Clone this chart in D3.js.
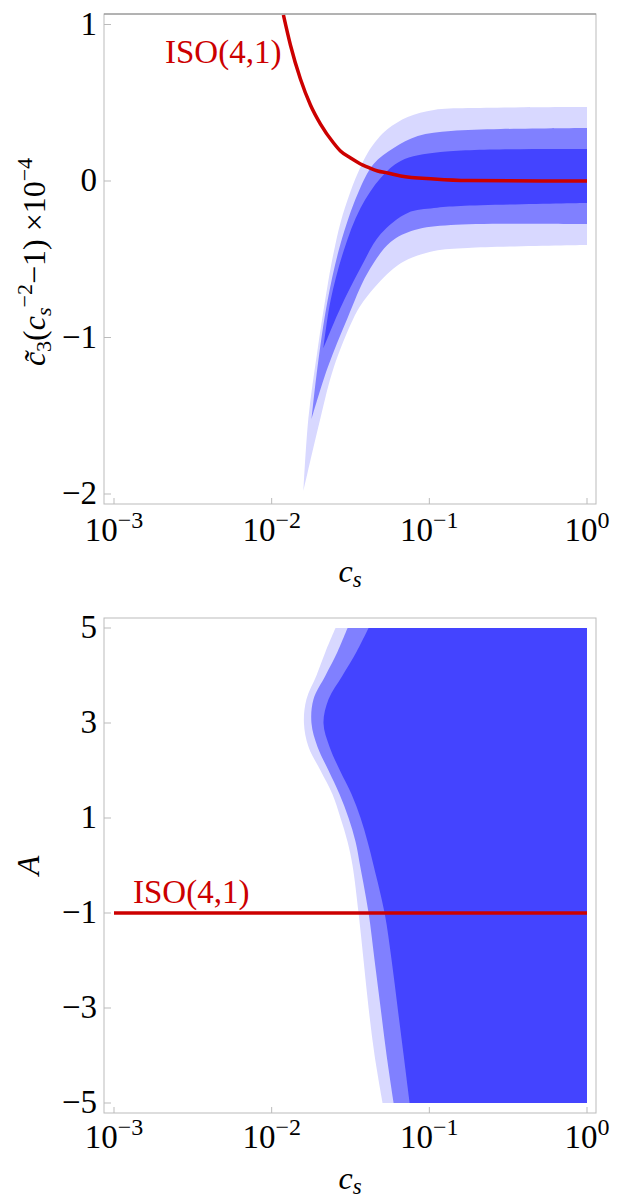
<!DOCTYPE html>
<html lang="en">
<head>
    <meta charset="UTF-8">
    <title>ISO(4,1) constraints</title>
    <script src="https://d3js.org/d3.v7.min.js"></script>
    <style>
        body { margin: 0; background: #fff; }
        svg { display: block; }
        text { font-family: "Liberation Serif", "Times New Roman", serif; fill: #000; }
        .frame { fill: none; stroke: #bbb; stroke-width: 1; }
        .frame-top { stroke: #888; stroke-width: 1; }
        .tick { stroke: #bbb; stroke-width: 1; }
        .iso { fill: none; stroke: #cc0000; stroke-width: 3.5; }
        .iso-label { fill: #cc0000; }
    </style>
</head>
<body>
<script>
    const width = 621;
    const height = 1199;

    // axes
    const xTicks = [1e-3, 1e-2, 1e-1, 1];
    const xTickExps = ["\u22123", "\u22122", "\u22121", "0"];
    const topYTicks = [1, 0, -1, -2];
    const bottomYTicks = [5, 3, 1, -1, -3, -5];

    // top panel: [c_s, c3~(c_s^-2 - 1) x 1e-4], contour edges from the tip to c_s = 1
    const topLightUpper = [[0.0159,-1.98],[0.0171,-1.514],[0.0195,-1.086],[0.0226,-0.671],[0.0247,-0.460],
        [0.0273,-0.268],[0.0317,-0.064],[0.0366,0.089],[0.0406,0.179],[0.047,0.268],[0.0544,0.332],
        [0.0729,0.409],[0.107,0.454],[0.175,0.466],[1,0.473]];
    const topLightLower = [[0.0159,-1.98],[0.0204,-1.514],[0.0247,-1.195],[0.0331,-0.875],[0.0383,-0.767],
        [0.047,-0.658],[0.0568,-0.575],[0.0698,-0.511],[0.107,-0.447],[0.175,-0.428],[1,-0.409]];
    const topMediumUpper = [[0.0179,-1.521],[0.0195,-1.195],[0.0226,-0.767],[0.0273,-0.403],[0.0351,-0.083],
        [0.0443,0.109],[0.0594,0.211],[0.0844,0.288],[0.137,0.319],[0.284,0.332],[1,0.339]];
    const topMediumLower = [[0.0179,-1.521],[0.0226,-1.195],[0.0303,-0.875],[0.0406,-0.588],[0.0568,-0.39],
        [0.0807,-0.313],[0.137,-0.281],[1,-0.275]];
    const topDarkUpper = [[0.0213,-1.067],[0.0236,-0.767],[0.0286,-0.447],[0.0366,-0.173],[0.0491,0.019],
        [0.0658,0.128],[0.118,0.185],[1,0.204]];
    const topDarkLower = [[0.0213,-1.067],[0.0273,-0.811],[0.0366,-0.556],[0.0491,-0.339],[0.0729,-0.204],
        [0.107,-0.173],[0.158,-0.160],[1,-0.141]];
    const topIso = [[0.01187,1.061],[0.01315,0.869],[0.01522,0.652],[0.01762,0.486],[0.0204,0.364],
        [0.0247,0.243],[0.0273,0.192],[0.0317,0.147],[0.0366,0.109],[0.0406,0.089],[0.047,0.064],
        [0.0544,0.051],[0.0658,0.032],[0.107,0.013],[0.175,0.003],[1,0]];

    // bottom panel: left edge c_s of each region for given A, region extends to c_s = 1
    const bottomA = [5, 4.5, 4, 3.5, 3, 2.5, 2, 1.5, 1, 0.5, 0, -1, -2, -3, -4, -5];
    const bottomLight = [0.0254,0.02195,0.01924,0.01662,0.01602,0.01712,0.0204,0.0243,0.02733,0.03029,
        0.03258,0.03558,0.03828,0.04118,0.04496,0.05056];
    const bottomMedium = [0.03029,0.02617,0.02195,0.01842,0.01788,0.01952,0.02294,0.02694,0.03074,0.03405,
        0.03637,0.04118,0.04496,0.04909,0.05359,0.0594];
    const bottomDark = [0.04118,0.03456,0.02815,0.02294,0.02131,0.02327,0.0271,0.03212,0.03664,0.04058,
        0.0443,0.05204,0.05768,0.06296,0.06875,0.07507];
    const bottomIso = [[0.001,-1],[1,-1]];

    const colors = {light: "#d8d8ff", medium: "#8080ff", dark: "#4444ff"};

    const svg = d3.select("body").append("svg")
        .attr("width", width).attr("height", height);

    const frameX = [104, 596];
    const x = d3.scaleLog().domain([1e-3, 1]).range([114, 587]);

    const panels = [
        {frameY: [14, 504], y: d3.scaleLinear().domain([-2, 1]).range([494, 24.5]),
         ticks: topYTicks, labelBase: 541, id: "top"},
        {frameY: [618, 1113], y: d3.scaleLinear().domain([-5, 5]).range([1103, 628]),
         ticks: bottomYTicks, labelBase: 1148, id: "bottom"}
    ];

    function fmt(v) {
        return v < 0 ? "\u2212" + Math.abs(v) : String(v);
    }

    panels.forEach(function(p) {
        const g = svg.append("g");
        g.append("clipPath").attr("id", "clip-" + p.id)
            .append("rect")
            .attr("x", frameX[0]).attr("y", p.frameY[0])
            .attr("width", frameX[1] - frameX[0]).attr("height", p.frameY[1] - p.frameY[0]);
        p.g = g;
        p.plot = g.append("g").attr("clip-path", "url(#clip-" + p.id + ")");
    });

    // ---- top panel regions
    const topPanel = panels[0];
    const topLine = d3.line()
        .x(d => x(d[0])).y(d => topPanel.y(d[1]))
        .curve(d3.curveCatmullRom.alpha(0.5));

    function bandPath(upper, lower) {
        const up = topLine(upper);
        const low = topLine(lower.slice().reverse());
        return up + "L" + low.slice(1) + "Z";
    }

    [[topLightUpper, topLightLower, colors.light],
     [topMediumUpper, topMediumLower, colors.medium],
     [topDarkUpper, topDarkLower, colors.dark]].forEach(function(b) {
        topPanel.plot.append("path")
            .attr("d", bandPath(b[0], b[1]))
            .attr("fill", b[2]);
    });

    topPanel.plot.append("path")
        .attr("class", "iso")
        .attr("d", d3.line()
            .x(d => x(d[0])).y(d => topPanel.y(d[1]))
            .curve(d3.curveMonotoneX)(topIso));

    // ---- bottom panel regions
    const bottomPanel = panels[1];
    const bottomArea = d3.area()
        .y(d => bottomPanel.y(d[1]))
        .x0(d => x(d[0]))
        .x1(x(1))
        .curve(d3.curveCatmullRom.alpha(0.5));

    [[bottomLight, colors.light], [bottomMedium, colors.medium], [bottomDark, colors.dark]]
        .forEach(function(b) {
            const pts = b[0].map((cs, i) => [cs, bottomA[i]]);
            bottomPanel.plot.append("path")
                .attr("d", bottomArea(pts))
                .attr("fill", b[1]);
        });

    bottomPanel.plot.append("path")
        .attr("class", "iso")
        .attr("d", d3.line().x(d => x(d[0])).y(d => bottomPanel.y(d[1]))(bottomIso));

    // ---- frames, ticks, tick labels
    panels.forEach(function(p) {
        const g = p.g;
        g.append("rect").attr("class", "frame")
            .attr("x", frameX[0]).attr("y", p.frameY[0])
            .attr("width", frameX[1] - frameX[0]).attr("height", p.frameY[1] - p.frameY[0]);
        if (p.id === "top") {
            g.append("line").attr("class", "frame-top")
                .attr("x1", frameX[0]).attr("x2", frameX[1])
                .attr("y1", p.frameY[0]).attr("y2", p.frameY[0]);
        }

        g.selectAll("line.ytick").data(p.ticks).enter()
            .append("line").attr("class", "tick")
            .attr("x1", frameX[0]).attr("x2", frameX[0] + 7)
            .attr("y1", d => p.y(d)).attr("y2", d => p.y(d));

        g.selectAll("text.ylab").data(p.ticks).enter()
            .append("text").attr("class", "ylab")
            .attr("x", 97).attr("y", d => p.y(d) + 10)
            .attr("text-anchor", "end")
            .style("font-size", "33px")
            .text(fmt);

        g.selectAll("line.xtick").data(xTicks).enter()
            .append("line").attr("class", "tick")
            .attr("x1", d => x(d)).attr("x2", d => x(d))
            .attr("y1", p.frameY[1]).attr("y2", p.frameY[1] - 6);

        const xl = g.selectAll("text.xlab").data(xTicks).enter()
            .append("text").attr("class", "xlab")
            .attr("x", d => x(d)).attr("y", p.labelBase)
            .attr("text-anchor", "middle")
            .style("font-size", "33px");
        xl.append("tspan").text("10");
        xl.append("tspan").attr("dy", -13).style("font-size", "24px")
            .text((d, i) => xTickExps[i]);

        // x axis title c_s
        const xt = g.append("text")
            .attr("x", (frameX[0] + frameX[1]) / 2).attr("y", p.labelBase + 41)
            .attr("text-anchor", "middle")
            .style("font-size", "32px").style("font-style", "italic");
        xt.append("tspan").text("c");
        xt.append("tspan").attr("dy", 5).style("font-size", "23px").text("s");
    });

    // ---- y axis titles
    const yt = svg.append("text")
        .attr("transform", `translate(45,${(panels[0].frameY[0] + panels[0].frameY[1]) / 2 + 3}) rotate(-90)`)
        .attr("text-anchor", "middle")
        .style("font-size", "32px");
    yt.append("tspan").style("font-style", "italic").text("c\u0303");
    yt.append("tspan").attr("dy", 6).style("font-size", "22px").text("3");
    yt.append("tspan").attr("dy", -6).text("(");
    yt.append("tspan").style("font-style", "italic").text("c");
    yt.append("tspan").attr("dy", 6).style("font-size", "22px").style("font-style", "italic").text("s");
    yt.append("tspan").attr("dy", -19).style("font-size", "22px").text("\u22122");
    yt.append("tspan").attr("dy", 13).text("\u22121) \u00d710");
    yt.append("tspan").attr("dy", -13).style("font-size", "22px").text("\u22124");

    svg.append("text")
        .attr("transform", `translate(39,${(panels[1].frameY[0] + panels[1].frameY[1]) / 2}) rotate(-90)`)
        .attr("text-anchor", "middle")
        .style("font-size", "32px").style("font-style", "italic")
        .text("A");

    // ---- ISO(4,1) labels
    svg.append("text").attr("class", "iso-label")
        .attr("x", 165).attr("y", 63)
        .style("font-size", "33px")
        .text("ISO(4,1)");
    svg.append("text").attr("class", "iso-label")
        .attr("x", 133).attr("y", 903)
        .style("font-size", "33px")
        .text("ISO(4,1)");
</script>
</body>
</html>
